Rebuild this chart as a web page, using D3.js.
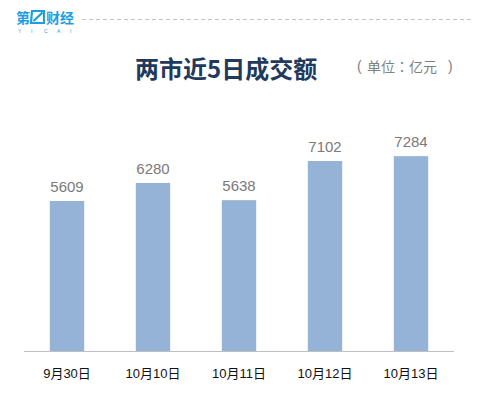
<!DOCTYPE html>
<html>
<head>
<meta charset="utf-8">
<script src="https://cdn.jsdelivr.net/npm/d3@7"></script>
<style>
  html, body { margin: 0; padding: 0; background: #fff; }
  svg { display: block; }
</style>
</head>
<body>
<svg id="chart" width="485" height="413"></svg>
<script>
// Two-market turnover over the last five trading days (unit: 100 million yuan)
const dates = ["9月30日", "10月10日", "10月11日", "10月12日", "10月13日"];
const turnover = [5609, 6280, 5638, 7102, 7284];
const titleText = "两市近5日成交额";
const unitText = "单位：亿元";

const svg = d3.select("#chart");
const latin = "'Liberation Sans', Arial, 'Noto Sans CJK SC', sans-serif";
const cjk = "'Noto Sans CJK SC', 'Liberation Sans', sans-serif";

// Brand mark in the top-left corner
const logo = svg.append("g").attr("transform", "translate(16,0)");
const blue = "#1e9ee0";
logo.append("text")
  .attr("x", 0).attr("y", 22.5)
  .attr("font-family", cjk).attr("font-weight", 700)
  .attr("font-size", 14).attr("fill", blue)
  .text("第");
logo.append("path")
  .attr("d", "M16,11 H28 V23 H15 Z M17.5,21 L26.5,12.5")
  .attr("fill", "none").attr("stroke", blue).attr("stroke-width", 2.2);
logo.append("text")
  .attr("x", 30).attr("y", 22.5)
  .attr("font-family", cjk).attr("font-weight", 700)
  .attr("font-size", 14).attr("fill", blue)
  .text("财经");
logo.selectAll("text.sub")
  .data(["Y", "I", "C", "A", "I"])
  .join("text")
  .attr("class", "sub")
  .attr("x", (d, i) => 2 + i * 13)
  .attr("y", 33)
  .attr("font-family", latin).attr("font-size", 5)
  .attr("fill", blue)
  .text(d => d);

svg.append("line")
  .attr("x1", 82).attr("x2", 471)
  .attr("y1", 19.5).attr("y2", 19.5)
  .attr("stroke", "#c4c4c4").attr("stroke-width", 1)
  .attr("stroke-dasharray", "4,3");

// Title and unit note
svg.append("text")
  .attr("x", 135).attr("y", 67)
  .attr("dominant-baseline", "central")
  .attr("font-family", cjk).attr("font-weight", 700)
  .attr("font-size", 24).attr("fill", "#1f3a5c")
  .text(titleText);

const unit = svg.append("text")
  .attr("y", 66)
  .attr("dominant-baseline", "central")
  .attr("font-family", "'Noto Sans CJK JP', 'Noto Sans CJK SC', sans-serif")
  .attr("font-size", 14).attr("fill", "#7f7f7f");
unit.append("tspan").attr("x", 357).attr("font-family", latin).text("(");
unit.append("tspan").attr("x", 367).text(unitText);
unit.append("tspan").attr("x", 448).attr("font-family", latin).text(")");

// Scales
const x = d3.scaleBand()
  .domain(dates)
  .range([24, 454])
  .paddingInner(0.6)
  .paddingOuter(0.3);

const y = d3.scaleLinear()
  .domain([0, 8000])
  .range([351, 137]);

// Bars
svg.append("g")
  .selectAll("rect")
  .data(turnover)
  .join("rect")
  .attr("x", (d, i) => x(dates[i]))
  .attr("width", x.bandwidth())
  .attr("y", d => y(d))
  .attr("height", d => y(0) - y(d))
  .attr("fill", "#95b3d7");

// Value labels
svg.append("g")
  .selectAll("text")
  .data(turnover)
  .join("text")
  .attr("x", (d, i) => x(dates[i]) + x.bandwidth() / 2)
  .attr("y", d => y(d) - 9)
  .attr("text-anchor", "middle")
  .attr("font-family", latin)
  .attr("font-size", 15)
  .attr("fill", "#7a7a7a")
  .text(d => d);

// Category axis
const axis = svg.append("g")
  .attr("transform", "translate(0,351)")
  .call(d3.axisBottom(x).tickSize(0).tickPadding(0));
axis.select(".domain")
  .attr("stroke", "#bfbfbf").attr("stroke-width", 1.2)
  .attr("d", "M24,0.5H454");
axis.selectAll(".tick text")
  .attr("y", 22)
  .attr("dy", null)
  .attr("dominant-baseline", "central")
  .attr("font-family", latin)
  .attr("font-size", 13)
  .attr("fill", "#111");
</script>
</body>
</html>
